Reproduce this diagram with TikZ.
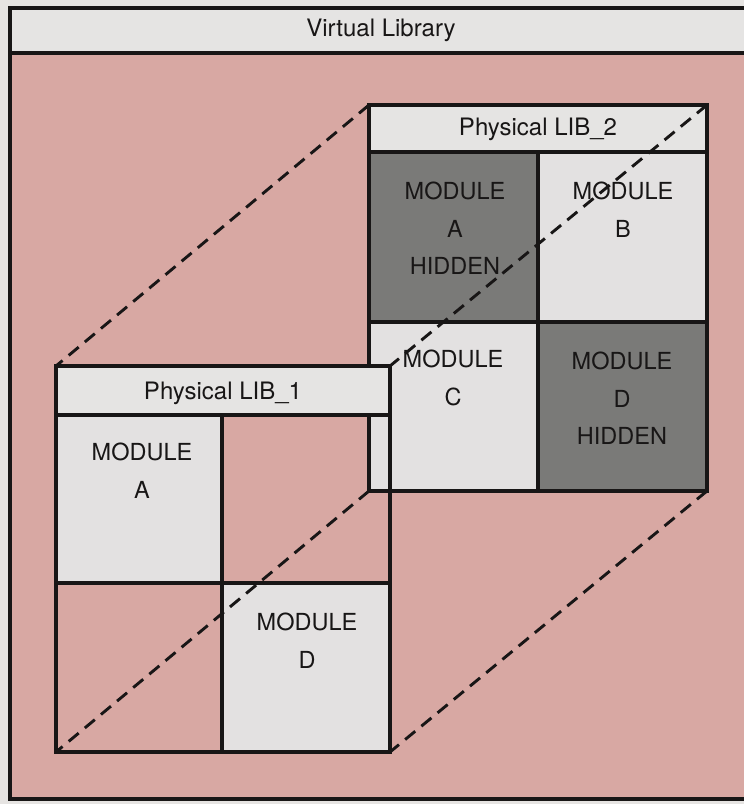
\documentclass[tikz,border=0pt]{standalone}
\usepackage{fontspec}
\setmainfont{TeX Gyre Heros}
\definecolor{paper}{RGB}{230,228,226}
\definecolor{pinkbg}{RGB}{216,168,163}
\definecolor{lightcell}{RGB}{227,225,225}
\definecolor{darkcell}{RGB}{122,122,120}
\definecolor{band}{RGB}{229,228,227}
\definecolor{ink}{RGB}{24,22,22}
\begin{document}
\begin{tikzpicture}[x=1pt,y=-1pt,
  box/.style={draw=ink, line width=3.2pt, inner sep=0pt, outer sep=0pt, anchor=north west},
  lightbox/.style={box, fill=lightcell},
  darkbox/.style={box, fill=darkcell},
  openbox/.style={box},
  headtext/.style={font=\fontsize{24}{28}\selectfont, text=ink, inner sep=0pt, anchor=base},
  modtext/.style={font=\fontsize{23.5}{37.5}\selectfont, text=ink, inner sep=0pt, anchor=north, align=center},
  depth/.style={draw=ink, line width=2.9pt, dash pattern=on 13pt off 8pt},
]
\useasboundingbox (0,0) rectangle (744,804);
\clip (0,0) rectangle (744,804);
\fill[paper] (0,0) rectangle (744,804);
% Virtual library frame
\node[box, fill=pinkbg, minimum width=750pt, minimum height=791pt] (vl) at (10,8) {};
\node[box, fill=band, minimum width=750pt, minimum height=45pt] (vlhead) at (10,8) {};
\node[headtext] (vltitle) at (381,36.5) {Virtual Library};
% Physical LIB_2 (back)
\node[box, fill=band, minimum width=338pt, minimum height=47pt] (h2) at (369,105) {};
\node[darkbox, minimum width=169pt, minimum height=170pt] (a2) at (369,152) {};
\node[lightbox, minimum width=169pt, minimum height=170pt] (b2) at (538,152) {};
\node[lightbox, minimum width=169pt, minimum height=169pt] (c2) at (369,322) {};
\node[darkbox, minimum width=169pt, minimum height=169pt] (d2) at (538,322) {};
\node[headtext] (h2t) at (538,135.5) {Physical LIB\_2};
\node[modtext] (a2t) at (455,182) {MODULE\\A\\HIDDEN};
\node[modtext] (b2t) at (623,182) {MODULE\\B};
\node[modtext] (c2t) at (453,350) {MODULE\\C};
\node[modtext] (d2t) at (622,352) {MODULE\\D\\HIDDEN};
% Physical LIB_1 (front)
\node[box, fill=band, minimum width=334pt, minimum height=49pt] (h1) at (56,366) {};
\node[lightbox, minimum width=166pt, minimum height=168pt] (a1) at (56,415) {};
\node[openbox, minimum width=168pt, minimum height=168pt] (e1) at (222,415) {};
\node[openbox, minimum width=166pt, minimum height=169pt] (f1) at (56,583) {};
\node[lightbox, minimum width=168pt, minimum height=169pt] (d1) at (222,583) {};
\node[headtext] (h1t) at (223,399.5) {Physical LIB\_1};
\node[modtext] (a1t) at (142,443) {MODULE\\A};
\node[modtext] (d1t) at (307,613) {MODULE\\D};
% depth connectors
\draw[depth] (h2.north west) -- (h1.north west);
\draw[depth] (h2.north east) -- (h1.north east);
\draw[depth] (c2.south west) -- (f1.south west);
\draw[depth] (d2.south east) -- (d1.south east);
\end{tikzpicture}
\end{document}
